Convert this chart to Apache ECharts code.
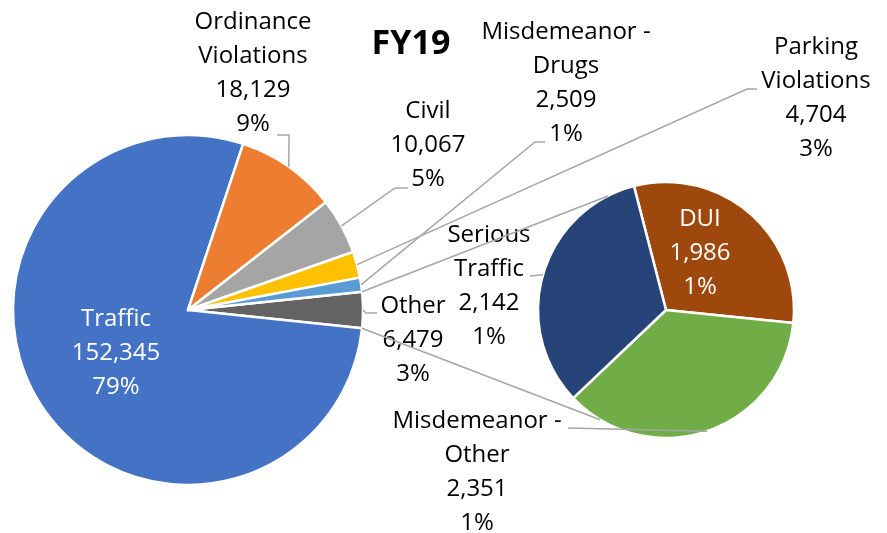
<!DOCTYPE html>
<html>
<head>
<meta charset="utf-8">
<script src="https://cdn.jsdelivr.net/npm/echarts@6/dist/echarts.min.js"></script>
<style>
  html, body { margin: 0; padding: 0; background: #fff; }
  #chart { width: 887px; height: 533px; }
</style>
</head>
<body>
<div id="chart"></div>
<script>
// primary pie, listed clockwise starting with the aggregated "Other" slice
const mainNames = ['Other', 'Traffic', 'Ordinance Violations', 'Civil', 'Parking Violations', 'Misdemeanor - Drugs'];
const mainValues = [6479, 152345, 18129, 10067, 4704, 2509];
const mainPercents = ['3%', '79%', '9%', '5%', '3%', '1%'];

// secondary pie (breakdown of "Other")
const subNames = ['DUI', 'Misdemeanor - Other', 'Serious Traffic'];
const subValues = [1986, 2351, 2142];
const subPercents = ['1%', '1%', '1%'];

const mainColors = ['#636363', '#4472C4', '#ED7D31', '#A5A5A5', '#FFC000', '#5B9BD5'];
const subColors = ['#9E480E', '#70AD47', '#264478'];

const MAIN_CENTER = [188, 310];
const MAIN_R = 175;
const SUB_CENTER = [666, 310];
const SUB_R = 128;
const SUB_START = 104.5;
const LINE_COLOR = '#A6A6A6';
const FONT = '"Open Sans", "Liberation Sans", sans-serif';

// manual label placement (Excel-style), centre of each text block
const labelPos = {
  'Traffic': [116, 353],
  'Ordinance Violations': [253, 73],
  'Civil': [428, 145],
  'Parking Violations': [816, 98],
  'Misdemeanor - Drugs': [566, 83],
  'Other': [413, 340],
  'DUI': [700, 253],
  'Serious Traffic': [489, 286],
  'Misdemeanor - Other': [477, 472],
};
// leader lines: points after the anchor on the slice
const leaderPts = {
  'Ordinance Violations': [[289, 135], [277, 135]],
  'Civil': [[395, 188], [408, 188]],
  'Parking Violations': [[747, 89], [757, 89]],
  'Misdemeanor - Drugs': [[535, 142], [545, 142]],
  'Other': [[366, 313], [377, 313]],
  'Serious Traffic': [[530, 276]],
  'Misdemeanor - Other': [[568, 428]],
};
const insideLabels = ['Traffic', 'DUI'];

function splitName(name) {
  if (name.includes(' - ')) return name.replace(' - ', ' -\n');
  return name.replace(/ /g, '\n');
}

function arcPoint(center, r, deg) {
  const a = deg * Math.PI / 180;
  return [center[0] + r * Math.cos(a), center[1] - r * Math.sin(a)];
}

// mid angle of each slice, clockwise from start
function midAngles(values, start) {
  const total = values.reduce((s, v) => s + v, 0);
  let cur = start;
  return values.map((v) => {
    const span = v / total * 360;
    const mid = cur - span / 2;
    cur -= span;
    return mid;
  });
}

const mainTotal = mainValues.reduce((s, v) => s + v, 0);
const otherHalf = mainValues[0] / mainTotal * 360 / 2;
const mainMids = midAngles(mainValues, otherHalf);
const subMids = midAngles(subValues, SUB_START);

function buildData(names, values, colors) {
  return names.map((name, i) => ({
    name,
    value: values[i],
    itemStyle: { color: colors[i] },
    label: { color: insideLabels.includes(name) ? '#fff' : '#000' },
  }));
}

function labelFormatter(percents) {
  return (p) => splitName(p.name) + '\n' + p.value.toLocaleString('en-US') + '\n' + percents[p.dataIndex];
}

function layoutFor(names) {
  return (params) => {
    const pos = labelPos[names[params.dataIndex]];
    return { x: pos[0], y: pos[1], align: 'center', verticalAlign: 'middle' };
  };
}

const graphics = [];
function addLeaders(names, mids, center, r) {
  names.forEach((name, i) => {
    const pts = leaderPts[name];
    if (!pts) return;
    graphics.push({
      type: 'polyline',
      z: 10,
      silent: true,
      shape: { points: [arcPoint(center, r, mids[i]), ...pts] },
      style: { stroke: LINE_COLOR, lineWidth: 1.5, fill: null },
    });
  });
}
addLeaders(mainNames, mainMids, MAIN_CENTER, MAIN_R);
addLeaders(subNames, subMids, SUB_CENTER, SUB_R);

// series lines joining the "Other" slice to the secondary pie
[[otherHalf, 117], [-otherHalf, -121]].forEach(([a, b]) => {
  const p1 = arcPoint(MAIN_CENTER, MAIN_R, a);
  const p2 = arcPoint(SUB_CENTER, SUB_R, b);
  graphics.push({
    type: 'line',
    z: 10,
    silent: true,
    shape: { x1: p1[0], y1: p1[1], x2: p2[0], y2: p2[1] },
    style: { stroke: LINE_COLOR, lineWidth: 1.5 },
  });
});

const baseLabel = {
  show: true,
  position: 'inside',
  fontFamily: FONT,
  fontSize: 24,
  lineHeight: 34,
  align: 'center',
};

const chart = echarts.init(document.getElementById('chart'));
chart.setOption({
  animation: false,
  backgroundColor: '#fff',
  title: {
    text: 'FY19',
    left: 406,
    top: 22,
    textAlign: 'center',
    textStyle: { fontFamily: FONT, fontSize: 34, fontWeight: 'bold', color: '#000' },
  },
  series: [
    {
      type: 'pie',
      center: MAIN_CENTER,
      radius: [0, MAIN_R],
      startAngle: otherHalf,
      clockwise: true,
      avoidLabelOverlap: false,
      itemStyle: { borderColor: '#fff', borderWidth: 2.5 },
      label: { ...baseLabel, formatter: labelFormatter(mainPercents) },
      labelLine: { show: false },
      labelLayout: layoutFor(mainNames),
      emphasis: { disabled: true },
      data: buildData(mainNames, mainValues, mainColors),
    },
    {
      type: 'pie',
      center: SUB_CENTER,
      radius: [0, SUB_R],
      startAngle: SUB_START,
      clockwise: true,
      avoidLabelOverlap: false,
      itemStyle: { borderColor: '#fff', borderWidth: 2.5 },
      label: { ...baseLabel, formatter: labelFormatter(subPercents) },
      labelLine: { show: false },
      labelLayout: layoutFor(subNames),
      emphasis: { disabled: true },
      data: buildData(subNames, subValues, subColors),
    },
  ],
  graphic: graphics,
});
</script>
</body>
</html>
